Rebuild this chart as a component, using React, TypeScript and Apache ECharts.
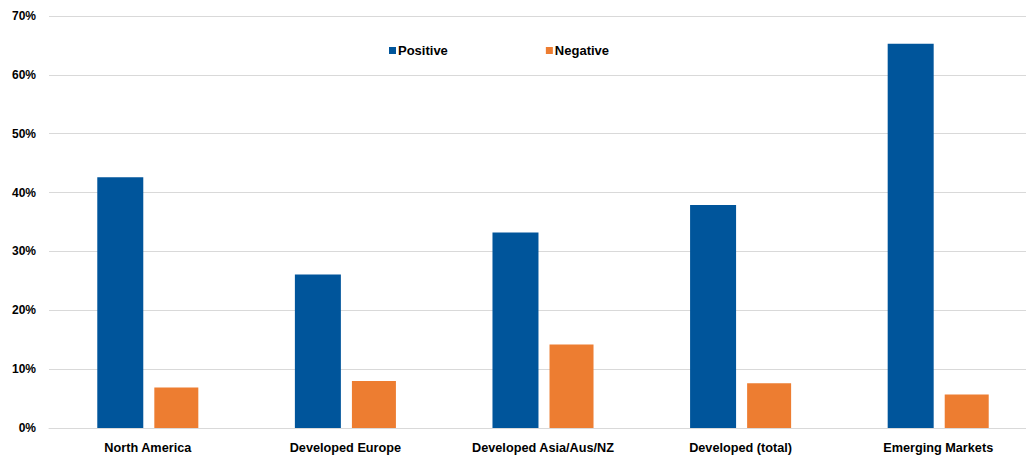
import React, { useEffect, useRef } from "react";
import * as echarts from "echarts";

const categories = ["North America", "Developed Europe", "Developed Asia/Aus/NZ", "Developed (total)", "Emerging Markets"];
const positive = [42.6, 26.1, 33.2, 37.9, 65.3];
const negative = [6.9, 8.0, 14.2, 7.6, 5.7];

export default function App() {
  const ref = useRef<HTMLDivElement>(null);
  useEffect(() => {
    if (!ref.current) return;
    const chart = echarts.init(ref.current, null, { renderer: "svg" });
    const font = { fontFamily: "Liberation Sans, Arial, sans-serif", fontWeight: "bold" as const, fontSize: 12, color: "#000" };
    chart.setOption({
      animation: false,
      backgroundColor: "#fff",
      legend: {
        left: 389,
        top: 44,
        padding: 0,
        itemWidth: 7,
        itemHeight: 7,
        itemGap: 98,
        icon: "rect",
        textStyle: { ...font, fontSize: 13, padding: [0, 0, 0, -3] },
        data: ["Positive", "Negative"],
      },
      grid: { left: 49, right: 3, top: 16, bottom: 29 },
      xAxis: {
        type: "category",
        data: categories,
        axisLine: { show: true, lineStyle: { color: "#d9d9d9", width: 1 } },
        axisTick: { show: false },
        axisLabel: { ...font, fontSize: 12.7, margin: 13 },
      },
      yAxis: {
        type: "value",
        min: 0,
        max: 70,
        interval: 10,
        axisLine: { show: false },
        axisTick: { show: false },
        splitLine: { lineStyle: { color: "#d9d9d9", width: 1 } },
        axisLabel: { ...font, margin: 13, formatter: (v: number) => `${v}%` },
      },
      series: [
        { name: "Positive", type: "bar", data: positive, barWidth: 46, barGap: "24%", itemStyle: { color: "#00559B" } },
        { name: "Negative", type: "bar", data: negative, barWidth: 44, itemStyle: { color: "#ED7D31" } },
      ],
    });
    return () => chart.dispose();
  }, []);
  return (
    <div style={{ position: "fixed", left: 0, top: 0, width: 1026, height: 457, overflow: "hidden", background: "#fff" }}>
      <div ref={ref} style={{ width: 1040, height: 457 }} />
    </div>
  );
}
